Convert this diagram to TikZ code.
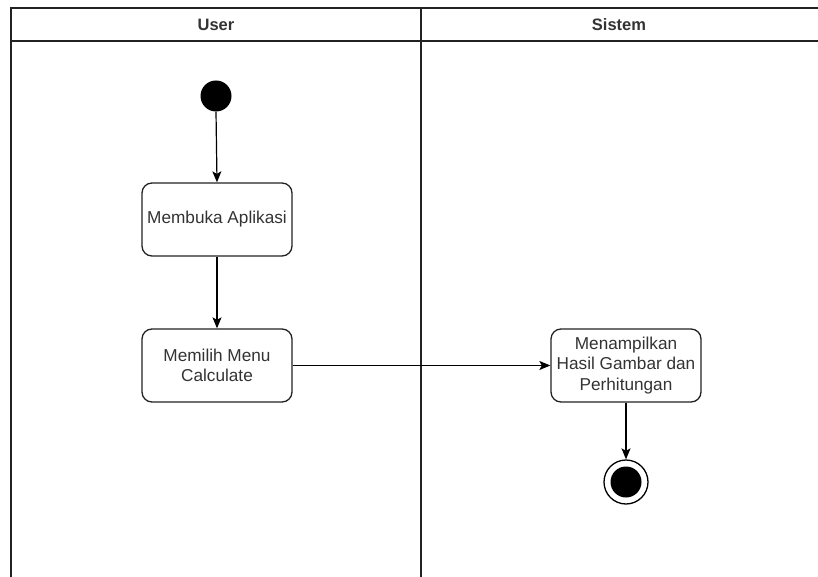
\documentclass[tikz,border=0pt]{standalone}
\usepackage{fontspec}
\setmainfont{Liberation Sans}
\usetikzlibrary{arrows.meta}
\definecolor{txt}{HTML}{333333}
\definecolor{ln}{HTML}{222222}
\begin{document}
\begin{tikzpicture}[x=1pt,y=-1pt,
  lane/.style={draw=ln, line width=1.4pt},
  act/.style={draw=ln, line width=1.3pt, rounded corners=10pt, minimum width=150pt, minimum height=73pt,
    align=center, inner sep=0pt, text=txt, font=\fontsize{17.2}{20.5}\selectfont},
  head/.style={text=txt, font=\bfseries\fontsize{16.5}{20}\selectfont},
  flow/.style={draw=black, line width=1.2pt, -{Stealth[length=11pt,width=9pt,inset=2.5pt]}}]
\useasboundingbox (0,0) rectangle (818,577);
% swimlanes
\draw[lane] (11,577) -- (11,8) -- (818,8);
\draw[lane] (11,41) -- (818,41);
\draw[lane] (421,8) -- (421,577);
\node[head] (huser) at (216,25) {User};
\node[head] (hsys) at (619,25) {Sistem};
% nodes
\node[circle, fill=black, minimum size=31pt, inner sep=0pt] (start) at (216,96) {};
\node[act] (a1) at (217,219.5) {Membuka Aplikasi};
\node[act] (a2) at (217,365.5) {Memilih Menu\\Calculate};
\node[act] (a3) at (626,365.5) {Menampilkan\\Hasil Gambar dan\\Perhitungan};
\node[circle, draw=black, line width=1.3pt, minimum size=44pt, inner sep=0pt] (end) at (626,482) {};
\node[circle, fill=black, minimum size=31pt, inner sep=0pt] (endin) at (end.center) {};
% connectors
\draw[flow] (start.south) -- (a1.north);
\draw[flow] (a1.south) -- (a2.north);
\draw[flow] (a2.east) -- (a3.west);
\draw[flow] (a3.south) -- (end.north);
\end{tikzpicture}
\end{document}
